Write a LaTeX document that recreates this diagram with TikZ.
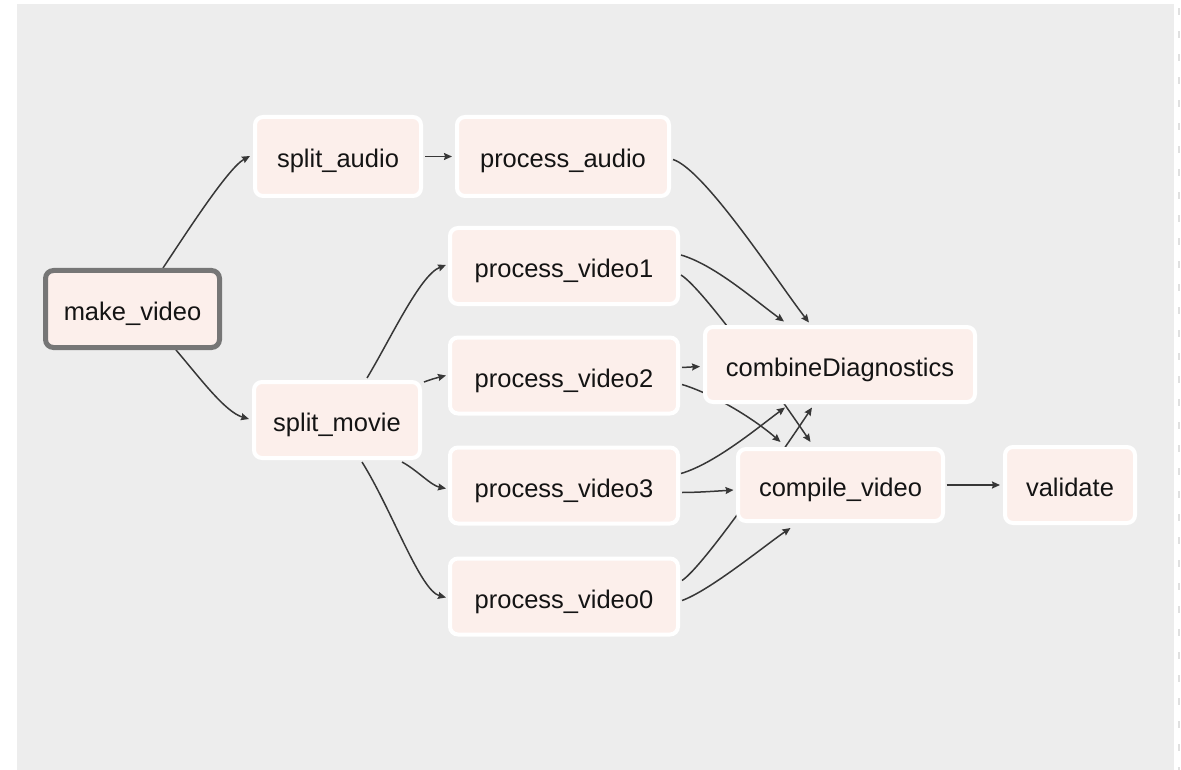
\documentclass[tikz,border=0pt]{standalone}
\usepackage{fontspec}
\setmainfont{Liberation Sans}
\usetikzlibrary{arrows.meta}
\definecolor{canvas}{RGB}{237,237,237}
\definecolor{taskfill}{RGB}{252,239,235}
\definecolor{rootline}{RGB}{118,118,118}
\definecolor{edgeline}{RGB}{55,55,55}
\pgfdeclarelayer{canvaslayer}
\pgfdeclarelayer{edgelayer}
\pgfsetlayers{canvaslayer,edgelayer,main}
\tikzset{
  task/.style={draw=white, line width=4pt, fill=taskfill, rounded corners=8pt,
    minimum height=76pt, inner sep=0pt, outer sep=0pt,
    text height=23pt, text depth=0pt,
    font=\fontsize{25.5pt}{28pt}\selectfont, text=black!92},
  roottask/.style={task, draw=rootline, line width=5pt},
  edge/.style={draw=edgeline, line width=1.5pt,
    -{Stealth[length=8pt,width=7pt,inset=1pt]}}
}
\begin{document}
\begin{tikzpicture}[x=1pt,y=-1pt]
\useasboundingbox (0,0) rectangle (1181,770);

% tasks
\node[roottask, minimum width=174pt, minimum height=77pt] (mk) at (132.5,309) {make\_video};
\node[task, minimum width=166pt, minimum height=79pt] (sa) at (338,156.5) {split\_audio};
\node[task, minimum width=212pt, minimum height=79pt] (pa) at (563,156.5) {process\_audio};
\node[task, minimum width=166pt] (sm) at (337,420) {split\_movie};
\node[task, minimum width=228pt] (pv1) at (564,266) {process\_video1};
\node[task, minimum width=228pt] (pv2) at (564,375.5) {process\_video2};
\node[task, minimum width=228pt] (pv3) at (564,485.5) {process\_video3};
\node[task, minimum width=228pt] (pv0) at (564,596.5) {process\_video0};
\node[task, minimum width=270pt, minimum height=75pt] (cd) at (840,364.5) {combineDiagnostics};
\node[task, minimum width=205pt, minimum height=72pt] (cv) at (840.5,485) {compile\_video};
\node[task, minimum width=130pt] (va) at (1070,485) {validate};

% canvas
\begin{pgfonlayer}{canvaslayer}
\fill[canvas] (17,4) rectangle (1174,770);
\draw[black!12, line width=2pt, dash pattern=on 7pt off 16pt] (1179,8) -- (1179,770);
\end{pgfonlayer}

% dependencies, running underneath the tasks
\begin{pgfonlayer}{edgelayer}
\draw[edge] ([shift={(30.5,-41)}]mk.center) .. controls +(22,-33) and +(-22,12) .. ([shift={(-88,-0.5)}]sa.center);
\draw[edge] ([shift={(43.5,41)}]mk.center) .. controls +(24,28) and +(-24,-7) .. ([shift={(-88,-1)}]sm.center);
\draw[edge] ([shift={(87,0)}]sa.center) -- ([shift={(-111,0)}]pa.center);
\draw[edge] ([shift={(110,3)}]pa.center) .. controls +(32,10) and +(-29,-37) .. ([shift={(-31,-42)}]cd.center);
\draw[edge] ([shift={(30,-42)}]sm.center) .. controls +(23,-38) and +(-26,10) .. ([shift={(-118,-1)}]pv1.center);
\draw[edge] ([shift={(87,-38)}]sm.center) .. controls +(8,-3) and +(-8,2) .. ([shift={(-118,0)}]pv2.center);
\draw[edge] ([shift={(65,42)}]sm.center) .. controls +(15,8) and +(-15,-3) .. ([shift={(-118,3)}]pv3.center);
\draw[edge] ([shift={(25,42)}]sm.center) .. controls +(30,48) and +(-26,-7) .. ([shift={(-118,1)}]pv0.center);
\draw[edge] ([shift={(117,-11)}]pv1.center) .. controls +(34,10) and +(-29,-21) .. ([shift={(-56,-43)}]cd.center);
\draw[edge] ([shift={(117,9)}]pv1.center) .. controls +(24,15) and +(-25,-37) .. ([shift={(-30,-43)}]cv.center);
\draw[edge] ([shift={(118,-8)}]pv2.center) -- ([shift={(-140,2)}]cd.center);
\draw[edge] ([shift={(118,9)}]pv2.center) .. controls +(33,10) and +(-25,-22) .. ([shift={(-60,-43)}]cv.center);
\draw[edge] ([shift={(117,-12)}]pv3.center) .. controls +(34,-10) and +(-27,20) .. ([shift={(-55,43)}]cd.center);
\draw[edge] ([shift={(118,7)}]pv3.center) .. controls +(15,0) and +(-15,1) .. ([shift={(-107,5)}]cv.center);
\draw[edge] ([shift={(118,-16)}]pv0.center) .. controls +(23,-15) and +(-22,33) .. ([shift={(-28,43)}]cd.center);
\draw[edge] ([shift={(118,4)}]pv0.center) .. controls +(28,-10) and +(-25,17) .. ([shift={(-50,43)}]cv.center);
\draw[edge, line width=2pt] ([shift={(106,0)}]cv.center) -- ([shift={(-70,0)}]va.center);
\end{pgfonlayer}
\end{tikzpicture}
\end{document}
